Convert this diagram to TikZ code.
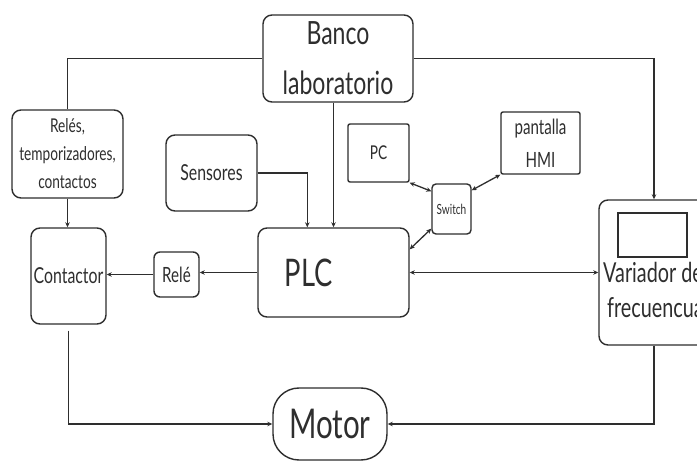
\documentclass[tikz,border=0pt]{standalone}
\usepackage{fontspec}
\setmainfont[FakeStretch=0.72]{Lato}
\usetikzlibrary{arrows.meta,calc}
\definecolor{ink}{HTML}{2E2E2E}
\tikzset{
  box/.style={draw=ink, rounded corners=9pt, line width=1.4pt, inner sep=0pt, align=center, text=ink},
  sqbox/.style={box, rounded corners=2pt},
  arr/.style={draw=ink, line width=1.3pt, -{Stealth[length=5pt,width=4.5pt]}},
  darr/.style={draw=ink, line width=1.3pt, {Stealth[length=5pt,width=4.5pt]}-{Stealth[length=5pt,width=4.5pt]}},
  fs/.style={font=\fontsize{#1}{#1}\selectfont}
}
\begin{document}
\begin{tikzpicture}[x=1pt,y=-1pt]
\useasboundingbox (0,0) rectangle (697,462);
\fill[white] (0,0) rectangle (697,462);

\node[box, minimum width=150pt, minimum height=87pt, font=\fontsize{32}{50}\selectfont] (banco) at (338,58.5) {Banco\\laboratorio};
\node[box, minimum width=111pt, minimum height=88pt, font=\fontsize{19}{28}\selectfont] (reles) at (67.5,154) {Relés,\\temporizadores,\\contactos};
\node[box, minimum width=91pt, minimum height=76pt, fs=22] (sens) at (211.5,173) {Sensores};
\node[sqbox, minimum width=61pt, minimum height=58pt, fs=19] (pc) at (378.5,153) {PC};
\node[sqbox, minimum width=79pt, minimum height=62pt, font=\fontsize{21}{33}\selectfont] (hmi) at (540.5,143) {pantalla\\HMI};
\node[box, rounded corners=4pt, minimum width=39pt, minimum height=50pt, fs=14] (sw) at (451.5,209) {Switch};
\node[box, minimum width=151pt, minimum height=89pt,
      label={[xshift=-25pt, fs=38, text=ink]center:PLC}] (plc) at (333.5,272.5) {};
\node[box, minimum width=75pt, minimum height=96pt, fs=22] (cont) at (68.5,276) {Contactor};
\node[box, rounded corners=6pt, minimum width=45pt, minimum height=45pt, fs=21] (rele) at (176.5,274.5) {Relé};
\node[box, minimum width=110pt, minimum height=145pt] (var) at (654,272.5) {};
\node[draw=ink, line width=1.4pt, minimum width=69pt, minimum height=44pt, inner sep=0pt] (scr) at (652.5,235) {};
\node[fs=27.5, text=ink, anchor=base west, inner sep=0pt] (vt1) at (603,283) {Variador de};
\node[fs=27.5, text=ink, anchor=base west, inner sep=0pt] (vt2) at (607,318) {frecuencua};
\node[box, rounded corners=26pt, minimum width=114pt, minimum height=72pt, fs=41] (motor) at (330,424) {Motor};

\draw[draw=ink, line width=1.3pt] (banco.west) -| (reles.north);
\draw[arr] (reles.south) -- (reles.south |- cont.north);
\draw[arr] (banco.east) -| (var.north);
\draw[arr] (plc.north |- banco.south) -- (plc.north);
\draw[arr] (sens.east) -| ([xshift=50pt]plc.north west);
\draw[arr] (plc.west) -- (plc.west -| rele.east);
\draw[arr] (rele.west) -- (rele.west -| cont.east);
\draw[darr] (plc.east) -- (var.west);
\draw[darr] (pc.south east) -- ([yshift=-8pt]sw.north west);
\draw[darr] (hmi.south west) -- ([yshift=-7pt]sw.north east);
\draw[darr] ([yshift=6pt]sw.south west) -- ([yshift=-22pt]plc.north east);
\draw[arr] ([yshift=-6pt]cont.south) |- (motor.west);
\draw[arr] (var.south) |- (motor.east);
\end{tikzpicture}
\end{document}
